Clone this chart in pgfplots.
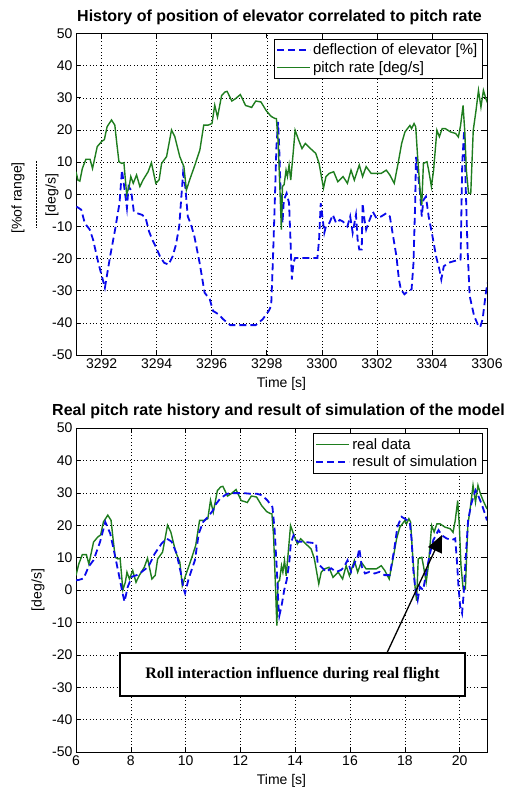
\documentclass[border=0pt]{standalone}
\usepackage{fontspec}
\setmainfont{Liberation Sans}
\newfontfamily\tnr{Liberation Serif}
\usepackage{pgfplots}
\pgfplotsset{compat=1.18}
\usetikzlibrary{arrows.meta}

\definecolor{mgreen}{RGB}{30,125,30}
\definecolor{mblue}{RGB}{10,10,235}

\pgfplotsset{
  matlab/.style={
    scale only axis,
    anchor=south west,
    width=411pt,
    ymin=-50, ymax=50,
    ytick={-50,-40,...,50},
    grid=major,
    grid style={black, line width=0.5pt, dash pattern=on 0.8pt off 2.6pt},
    axis line style={line width=0.8pt},
    tick style={black, line width=0.6pt},
    tick align=inside,
    major tick length=5pt,
    tick label style={font=\fontsize{14}{16}\selectfont},
    /pgf/number format/1000 sep={},
    /pgf/number format/assume math mode=true,
    every axis x label/.style={at={(axis description cs:0.5,0)}, anchor=center,
      yshift=-28.5pt, font=\fontsize{14}{16}\selectfont},
    every axis y label/.style={at={(axis description cs:-0.0925,0.5)}, anchor=center,
      rotate=90, font=\fontsize{14}{16}\selectfont},
    legend cell align=left,
    legend style={font=\fontsize{15}{17}\selectfont, draw=black,
      fill=white, at={(1,1)}, anchor=north east, xshift=-5pt, yshift=-5.5pt,
      inner sep=2.5pt, row sep=1.5pt},
    legend image code/.code={\draw[#1] (0pt,0pt) -- (33pt,0pt);},
  },
  elev/.style={color=mblue, line width=1.8pt, dash pattern=on 7pt off 4pt},
  pitch/.style={color=mgreen, line width=1.4pt},
}

\begin{document}
\begin{tikzpicture}[x=1pt,y=1pt]
\path[use as bounding box] (0,0) rectangle (506,-789);

% ---------------- top axis ----------------
\begin{axis}[matlab,
  at={(76pt,-355pt)},
  height=321.5pt,
  xmin=3291.07, xmax=3306,
  xtick={3292,3294,...,3306},
  xlabel={Time [s]},
]
\addplot[elev] coordinates {
(3291.08,-3.8) (3291.26,-4.8) (3291.39,-9.0) (3291.57,-11.0) (3291.69,-14.1)
(3291.88,-21.3) (3292.12,-29.1) (3292.31,-19.3) (3292.49,-11.0) (3292.65,-2.8)
(3292.74,7.5) (3292.82,2.4) (3292.92,-4.3) (3292.98,2.4) (3293.07,1.3)
(3293.17,-5.4) (3293.29,-5.9) (3293.47,-6.4) (3293.60,-7.4) (3293.72,-11.5)
(3293.84,-14.1) (3293.96,-16.2) (3294.12,-19.3) (3294.27,-21.3) (3294.43,-21.9)
(3294.58,-19.3) (3294.70,-15.7) (3294.82,-10.0) (3294.88,-2.8) (3294.96,6.5)
(3295.04,2.4) (3295.13,-6.9) (3295.25,-9.5) (3295.37,-13.1) (3295.56,-21.3)
(3295.74,-30.6) (3295.93,-32.7) (3296.05,-36.3) (3296.24,-37.3) (3296.42,-38.9)
(3296.67,-40.7) (3297.10,-40.7) (3297.60,-40.7) (3297.85,-38.9) (3298.07,-36.3)
(3298.16,-34.7) (3298.22,-21.3) (3298.29,-2.8) (3298.35,14.7) (3298.41,22.5)
(3298.45,15.0) (3298.50,1.3) (3298.57,-9.0) (3298.62,-1.8) (3298.72,0.3)
(3298.81,-2.8) (3298.87,-16.2) (3298.91,-26.5) (3298.97,-21.3) (3299.03,-19.8)
(3299.84,-19.8) (3299.90,-14.1) (3299.96,-2.8) (3300.02,-6.9) (3300.09,-12.0)
(3300.15,-10.0) (3300.27,-9.0) (3300.40,-6.4) (3300.52,-9.0) (3300.65,-8.0)
(3300.77,-8.5) (3300.93,-10.0) (3301.03,-6.9) (3301.12,-12.0) (3301.24,-6.4)
(3301.30,-14.1) (3301.36,-17.2) (3301.45,-17.2) (3301.48,-2.8) (3301.55,-8.0)
(3301.61,-11.0) (3301.69,-9.0) (3301.85,-5.4) (3301.98,-7.4) (3302.16,-6.9)
(3302.34,-5.9) (3302.47,-6.9) (3302.59,-13.1) (3302.71,-19.3) (3302.80,-26.5)
(3302.87,-29.6) (3303.00,-31.1) (3303.14,-30.1) (3303.26,-29.6) (3303.33,-21.3)
(3303.39,-2.8) (3303.42,11.6) (3303.48,7.5) (3303.57,0.3) (3303.63,-6.9)
(3303.69,-1.8) (3303.78,-0.7) (3303.88,-6.9) (3304.02,-13.1) (3304.15,-19.3)
(3304.27,-23.4) (3304.34,-26.5) (3304.43,-22.4) (3304.61,-21.3) (3304.80,-20.8)
(3305.04,-20.3) (3305.10,9.6) (3305.17,19.9) (3305.23,1.3) (3305.29,-16.2)
(3305.37,-31.6) (3305.53,-37.8) (3305.66,-40.4) (3305.75,-41.4) (3305.84,-38.9)
(3305.90,-34.7) (3305.96,-30.6) (3306.02,-27.5)
};
\addlegendentry{deflection of elevator [\%]}
\addplot[pitch] coordinates {
(3291.07,7.0) (3291.14,4.4) (3291.21,4.1) (3291.30,8.0) (3291.43,10.9)
(3291.58,10.9) (3291.67,8.0) (3291.84,14.8) (3292.00,16.4) (3292.10,17.0)
(3292.20,21.0) (3292.36,23.1) (3292.48,21.5) (3292.55,16.0) (3292.63,10.1)
(3292.73,9.6) (3292.81,9.8) (3292.91,0.0) (3293.00,2.4) (3293.06,5.5)
(3293.15,3.4) (3293.27,6.0) (3293.39,2.4) (3293.51,4.5) (3293.69,7.0)
(3293.81,9.8) (3293.97,3.4) (3294.09,4.5) (3294.18,9.6) (3294.36,11.7)
(3294.54,20.0) (3294.66,17.9) (3294.84,11.7) (3294.99,8.6) (3295.08,1.3)
(3295.20,4.5) (3295.39,9.1) (3295.57,13.8) (3295.71,21.5) (3295.87,21.5)
(3296.01,22.0) (3296.11,27.7) (3296.21,24.0) (3296.36,30.7) (3296.48,31.8)
(3296.56,32.0) (3296.73,29.0) (3296.86,29.7) (3297.04,31.0) (3297.23,27.6)
(3297.35,27.3) (3297.45,27.0) (3297.60,29.0) (3297.79,28.7) (3297.98,26.0)
(3298.16,24.2) (3298.29,23.6) (3298.35,23.5) (3298.41,16.8) (3298.47,3.4)
(3298.53,-11.0) (3298.57,2.4) (3298.63,3.0) (3298.70,7.5) (3298.75,5.5)
(3298.81,9.1) (3298.87,4.4) (3298.95,12.0) (3299.03,19.9) (3299.16,16.8)
(3299.28,14.2) (3299.40,15.8) (3299.59,14.2) (3299.78,12.7) (3299.90,9.6)
(3300.06,1.9) (3300.15,5.5) (3300.27,6.5) (3300.43,7.0) (3300.58,3.9)
(3300.77,5.5) (3300.93,3.4) (3301.06,7.5) (3301.18,4.4) (3301.36,9.1)
(3301.48,5.5) (3301.61,8.6) (3301.79,6.5) (3301.98,6.5) (3302.16,6.5)
(3302.34,7.5) (3302.47,6.0) (3302.63,3.4) (3302.77,9.6) (3302.90,15.8)
(3303.02,19.4) (3303.20,21.4) (3303.26,20.4) (3303.35,22.0) (3303.41,21.0)
(3303.48,11.6) (3303.57,1.3) (3303.63,-3.3) (3303.69,9.6) (3303.82,10.1)
(3303.88,7.5) (3303.98,2.4) (3304.06,7.5) (3304.18,19.9) (3304.27,17.9)
(3304.37,20.4) (3304.49,20.4) (3304.67,19.4) (3304.86,18.9) (3304.96,17.8)
(3305.04,21.4) (3305.13,27.6) (3305.19,19.9) (3305.25,7.5) (3305.33,0.3)
(3305.41,0.3) (3305.50,19.9) (3305.60,26.0) (3305.69,32.3) (3305.78,27.1)
(3305.87,32.3) (3305.96,29.7) (3306.06,27.6) (3306.20,25.0)
};
\addlegendentry{pitch rate [deg/s]}
\end{axis}

% ---------------- bottom axis ----------------
\begin{axis}[matlab,
  at={(76pt,-752pt)},
  height=324pt,
  xmin=6, xmax=21,
  xtick={6,8,...,20},
  xlabel={Time [s]},
  ylabel={[deg/s]},
]
\addplot[pitch] coordinates {
(6.00,4.5) (6.10,8.0) (6.23,10.9) (6.38,10.9) (6.47,8.0) (6.64,14.8)
(6.80,16.4) (6.90,17.0) (7.00,21.0) (7.16,23.1) (7.28,21.5) (7.35,16.0)
(7.43,10.1) (7.53,9.6) (7.61,9.8) (7.71,0.0) (7.80,2.4) (7.86,5.5)
(7.95,3.4) (8.07,6.0) (8.19,2.4) (8.31,4.5) (8.49,7.0) (8.61,9.8)
(8.77,3.4) (8.89,4.5) (8.98,9.6) (9.16,11.7) (9.34,20.0) (9.46,17.9)
(9.64,11.7) (9.79,8.6) (9.88,1.3) (10.00,4.5) (10.19,9.1) (10.37,13.8)
(10.51,21.5) (10.67,21.5) (10.81,22.0) (10.91,27.7) (11.01,24.0) (11.16,30.7)
(11.28,31.8) (11.36,32.0) (11.53,29.0) (11.66,29.7) (11.84,31.0) (12.03,27.6)
(12.15,27.3) (12.25,27.0) (12.40,29.0) (12.59,28.7) (12.78,26.0) (12.96,24.2)
(13.09,23.6) (13.15,23.5) (13.21,16.8) (13.27,3.4) (13.33,-11.0) (13.37,2.4)
(13.43,3.0) (13.50,7.5) (13.55,5.5) (13.61,9.1) (13.67,4.4) (13.75,12.0)
(13.83,19.9) (13.96,16.8) (14.08,14.2) (14.20,15.8) (14.39,14.2) (14.58,12.7)
(14.70,9.6) (14.86,1.9) (14.95,5.5) (15.07,6.5) (15.23,7.0) (15.38,3.9)
(15.57,5.5) (15.73,3.4) (15.86,7.5) (15.98,4.4) (16.16,9.1) (16.28,5.5)
(16.41,8.6) (16.59,6.5) (16.78,6.5) (16.96,6.5) (17.14,7.5) (17.27,6.0)
(17.43,3.4) (17.57,9.6) (17.70,15.8) (17.82,19.4) (18.00,21.4) (18.06,20.4)
(18.15,22.0) (18.21,21.0) (18.28,11.6) (18.37,1.3) (18.43,-3.3) (18.49,9.6)
(18.62,10.1) (18.68,7.5) (18.78,2.4) (18.86,7.5) (18.98,19.9) (19.07,17.9)
(19.17,20.4) (19.29,20.4) (19.47,19.4) (19.66,18.9) (19.76,17.8) (19.84,21.4)
(19.93,27.6) (19.99,19.9) (20.05,7.5) (20.13,0.3) (20.21,0.3) (20.30,19.9)
(20.40,26.0) (20.49,32.3) (20.58,27.1) (20.67,32.3) (20.76,29.7) (20.86,27.6)
(21.00,25.0)
};
\addlegendentry{real data}
\addplot[elev] coordinates {
(6.00,3.0) (6.10,3.1) (6.28,3.6) (6.46,7.2) (6.64,9.2) (6.88,14.9)
(7.07,21.0) (7.25,17.4) (7.43,10.3) (7.58,4.1) (7.70,-1.0) (7.77,-3.6)
(7.89,1.0) (8.04,4.1) (8.22,4.6) (8.40,5.6) (8.64,7.2) (8.88,11.3)
(9.13,14.4) (9.31,15.9) (9.49,14.9) (9.67,11.3) (9.83,5.1) (9.92,0.5)
(9.98,-1.0) (10.10,3.1) (10.22,6.2) (10.34,9.2) (10.48,17.4) (10.64,21.0)
(10.82,22.6) (11.00,24.6) (11.08,26.2) (11.26,28.2) (11.51,29.7) (11.75,29.9)
(12.12,29.9) (12.37,29.7) (12.61,29.7) (12.80,29.2) (12.98,27.7) (13.17,25.6)
(13.25,18.5) (13.33,6.2) (13.39,-5.1) (13.42,-8.0) (13.50,-5.0) (13.60,0.0)
(13.69,3.1) (13.78,8.2) (13.84,14.4) (13.94,16.9) (14.09,14.9) (14.27,14.9)
(14.58,14.6) (14.76,14.4) (14.82,8.2) (14.94,7.2) (15.13,5.6) (15.31,6.7)
(15.50,5.6) (15.68,6.2) (15.79,7.2) (15.91,9.2) (16.04,5.6) (16.16,8.2)
(16.28,10.3) (16.34,12.8) (16.43,7.2) (16.55,5.1) (16.71,5.6) (16.90,5.1)
(17.08,5.6) (17.26,4.6) (17.45,4.6) (17.61,12.3) (17.73,19.5) (17.88,22.6)
(18.06,21.7) (18.18,21.0) (18.25,15.4) (18.31,6.2) (18.39,0.0) (18.47,-3.1)
(18.55,1.0) (18.67,0.0) (18.80,6.2) (18.92,11.3) (19.04,15.4) (19.23,18.5)
(19.35,16.9) (19.53,15.9) (19.72,15.4) (19.84,15.9) (19.90,9.2) (19.96,1.0)
(20.02,-5.1) (20.09,-7.2) (20.15,-1.0) (20.21,8.2) (20.31,21.5) (20.43,26.7)
(20.58,30.8) (20.70,28.7) (20.82,26.2) (20.92,23.6) (21.00,21.5)
};
\addlegendentry{result of simulation}
\draw[line width=1.3pt, -{Triangle[length=17pt,width=15pt]}]
  (axis cs:17.35,-19.4) -- (axis cs:19.36,17.0);
\node[draw, line width=1.3pt, fill=white, minimum width=345pt, minimum height=43pt,
  font=\tnr\bfseries\fontsize{16}{18}\selectfont]
  at (axis cs:13.9,-26.05) {Roll interaction influence during real flight};
\end{axis}

% titles and the stacked label of the top axis
\node[font=\bfseries\fontsize{16}{18}\selectfont] at (279.5,-17.5)
  {History of position of elevator correlated to pitch rate};
\node[font=\bfseries\fontsize{16}{18}\selectfont] at (278.5,-411)
  {Real pitch rate history and result of simulation of the model};
\node[rotate=90, font=\fontsize{14}{16}\selectfont] at (18,-198) {[\%of range]};
\draw[line width=1pt, dash pattern=on 2pt off 1pt] (36,-161) -- (36,-228);
\node[rotate=90, font=\fontsize{14}{16}\selectfont] at (52,-195) {[deg/s]};
\end{tikzpicture}
\end{document}
